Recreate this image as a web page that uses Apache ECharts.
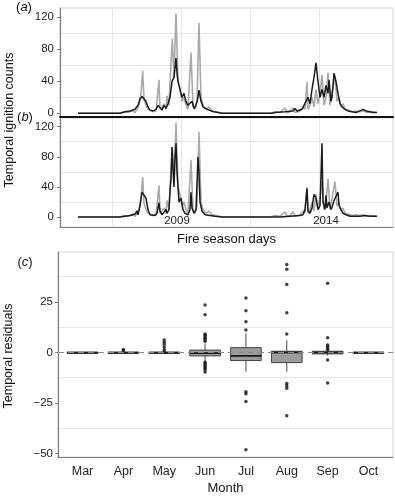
<!DOCTYPE html>
<html>
<head>
<meta charset="utf-8">
<title>Temporal ignition counts and residuals</title>
<script src="https://cdn.jsdelivr.net/npm/echarts@6/dist/echarts.min.js"></script>
<style>
  html, body { margin: 0; padding: 0; background: #fff; }
  #chart { width: 395px; height: 496px; }
</style>
</head>
<body>
<div id="chart"></div>
<script>
// observed ignition counts (grey), [season day, count]
var observed = [[0,0],[42,0],[46,2],[50,1],[54,3],[57,1],[59,5],[61,10],[63,25],[64.7,53],[66,18],[68,10],[70,5],[72,3],
  [75,2],[78,3],[81,42],[82,5],[84,8],[86,12],[88,6],[89,22],[91,10],[93,63],[94.3,93],[96,45],[98,125],[100,40],
  [102,30],[104,15],[106,20],[108,10],[110,5],[113,76],[115,10],[117,5],[119,15],[121,113],[123,20],[125,10],[128,5],
  [131,8],[134,3],[138,2],[144,0],[192,0],[197,2],[202,1],[207,7],[209,1],[212,2],[215,7],[217,1],[222,3],[225,8],
  [227,5],[229,39],[230,5],[232,10],[234,20],[236,8],[238,30],[240,12],[242,25],[244,48],[246,10],[248,20],[250,51],
  [252,10],[254,25],[257,47],[259,15],[261,20],[263,8],[265,12],[267,5],[270,4],[274,2],[278,3],[282,2],[285,3],
  [289,1],[294,2],[299,1]];

// model (a) fitted counts (black)
var fittedA = [[0,0],[42,0],[47,2],[52,3],[57,5],[60,10],[62,18],[64,21],[66,21],[68,15],[70,8],[72,4],[75,3],[78,5],
  [80,10],[82,8],[84,4],[86,10],[88,6],[90,12],[92,20],[94,40],[96,45],[98,69],[99,50],[100,40],[102,30],[104,20],
  [106,25],[108,15],[110,10],[112,12],[114,15],[116,6],[118,10],[120,20],[121,29],[123,15],[125,8],[127,10],[129,5],
  [131,6],[133,3],[136,2],[140,1],[144,0],[194,0],[197,1],[207,2],[215,3],[217,6],[219,3],[224,5],[226,10],[228,8],
  [230,20],[232,12],[234,30],[236,45],[238,63],[240,40],[242,20],[244,30],[246,20],[248,35],[250,25],[251,42],
  [253,15],[254,20],[256,50],[258,40],[260,25],[262,12],[264,8],[267,5],[270,3],[274,2],[278,1],[282,3],[285,5],
  [288,3],[292,2],[295,1],[299,1]];

// model (b) fitted counts (black)
var fittedB = [[0,0],[42,0],[44,1],[52,2],[57,4],[59,8],[60,3],[62,15],[64,33],[66,35],[68,25],[70,10],[72,3],[77,2],
  [79,5],[81,19],[82,8],[84,3],[86,6],[88,10],[89,5],[91,10],[92,35],[93,50],[94,93],[95,65],[96,40],[97,80],[98,98],
  [99,60],[100,40],[101,20],[103,25],[105,10],[107,5],[110,3],[112,10],[113,33],[114,12],[116,5],[118,10],[120,80],
  [121,60],[122,20],[124,8],[127,3],[132,2],[137,1],[144,0],[202,0],[212,1],[222,2],[225,3],[227,10],[229,38],[230,8],
  [232,5],[234,12],[236,30],[238,25],[240,10],[242,15],[244,98],[245,20],[247,10],[248,29],[249,12],[251,20],[253,10],
  [254,13],[256,22],[258,20],[260,33],[261,15],[263,10],[265,5],[268,3],[272,1],[282,1],[287,2],[292,1],[299,1]];

var yearTickDays = [99, 248];
var yearLabels = ['2009', '2014'];
var dayGridDays = [34, 103, 172, 241];
var countTicks = [0, 40, 80, 120];
var countGrid = [20, 60, 100];

// panel (c): monthly residuals, [lower whisker, Q1, median, Q3, upper whisker]
var months = ['Mar', 'Apr', 'May', 'Jun', 'Jul', 'Aug', 'Sep', 'Oct'];
var boxStats = [
  [0, 0, 0, 0, 0],
  [0, 0, 0, 0, 0],
  [0, 0, 0, 0, 0],
  [-4, -1.7, -0.3, 1.2, 4.5],
  [-9.5, -4.0, -1.7, 2.4, 9.5],
  [-9.5, -5.0, 0, 0.6, 6],
  [-1.5, -0.7, 0, 0.6, 1],
  [0, 0, 0, 0, 0]
];
var outliers = [
  [],
  [1.5, 0.8],
  [6.2, 5.0, 3.9, 2.6, 1.4, 0.4],
  [23.5, 18.7, 9.2, 8.5, 7.8, 7, 6.3, 5.5, -4.7, -5.5, -6.3, -7, -7.8, -8.5, -9.6],
  [27, 20.7, 15.2, 11.1, -19.4, -20.4, -24.2, -48.1],
  [43.5, 41.2, 33.6, 19.6, 9.2, -15.3, -16.4, -17.7, -31.3],
  [34.2, 7.3, 3.7, 2.9, 2.1, 1.2, -3.7, -15.1],
  []
];
var residualTicks = [25, 0, -25, -50];
var residualGrid = [37.5, 12.5, -12.5, -37.5];

var FONT = 'Liberation Sans, Arial, sans-serif';

var boxData = months.map(function (m, i) { return [i].concat(boxStats[i]); });
var outlierData = [];
outliers.forEach(function (vals, i) {
  vals.forEach(function (v) { outlierData.push([i, v]); });
});

function minusFmt(v) { return v < 0 ? '\u2212' + (-v) : String(v); }

function countAxis(gridIndex, min, max) {
  return {
    type: 'value', gridIndex: gridIndex, min: min, max: max,
    axisLine: { show: true, onZero: false, lineStyle: { color: '#808080', width: 1.2 } },
    axisTick: { show: true, length: 3, customValues: countTicks, lineStyle: { color: '#808080' } },
    axisLabel: { customValues: countTicks, margin: 6, fontSize: 11.5, color: '#222', fontFamily: FONT },
    splitLine: { show: false }
  };
}

// light background grid lines, drawn behind the data
function gridLines(xi, yi, xs, ys) {
  var lines = xs.map(function (v) { return { xAxis: v }; })
    .concat(ys.map(function (v) { return { yAxis: v }; }));
  return {
    type: 'line', xAxisIndex: xi, yAxisIndex: yi, data: [], silent: true, z: 0,
    markLine: { silent: true, symbol: ['none', 'none'], label: { show: false }, z: 0,
      lineStyle: { color: '#e6e6e6', type: 'solid', width: 1 }, data: lines }
  };
}

var chart = echarts.init(document.getElementById('chart'));
chart.setOption({
  animation: false,
  backgroundColor: '#fff',
  textStyle: { fontFamily: FONT },
  grid: [
    { left: 60, top: 8, width: 333, height: 109, show: true, borderColor: '#d4d4d4', borderWidth: 1 },
    { left: 60, top: 118, width: 333, height: 109, show: true, borderColor: '#d4d4d4', borderWidth: 1 },
    { left: 58, top: 252, width: 335, height: 207, show: true, borderColor: '#d4d4d4', borderWidth: 1 }
  ],
  xAxis: [
    { type: 'value', gridIndex: 0, min: -18, max: 315,
      axisLine: { show: true, onZero: false, lineStyle: { color: '#111', width: 2 } },
      axisTick: { show: false }, axisLabel: { show: false }, splitLine: { show: false } },
    { type: 'value', gridIndex: 1, min: -18, max: 315,
      axisLine: { show: true, onZero: false, lineStyle: { color: '#808080', width: 1.2 } },
      axisTick: { show: false },
      axisLabel: { customValues: yearTickDays, inside: true, margin: 0, fontSize: 11.5, color: '#222',
        fontFamily: FONT, verticalAlign: 'bottom',
        formatter: function (v) { return yearLabels[yearTickDays.indexOf(v)]; } },
      splitLine: { show: false },
      name: 'Fire season days', nameLocation: 'middle', nameGap: 6,
      nameTextStyle: { fontSize: 13, color: '#111', fontFamily: FONT, verticalAlign: 'top' } },
    { type: 'value', gridIndex: 2, min: -0.6, max: 7.6,
      axisLine: { show: true, onZero: false, lineStyle: { color: '#808080', width: 1.2 } },
      axisTick: { show: false, customValues: [0, 1, 2, 3, 4, 5, 6, 7] },
      axisLabel: { customValues: [0, 1, 2, 3, 4, 5, 6, 7], margin: 8, fontSize: 12.5, color: '#222', fontFamily: FONT,
        formatter: function (v) { return months[v]; } },
      splitLine: { show: false },
      name: 'Month', nameLocation: 'middle', nameGap: 25,
      nameTextStyle: { fontSize: 13, color: '#111', fontFamily: FONT, verticalAlign: 'top' } }
  ],
  yAxis: [
    countAxis(0, -4.6, 131.6),
    countAxis(1, -13.2, 131.5),
    { type: 'value', gridIndex: 2, min: -51.7, max: 49.7,
      axisLine: { show: true, onZero: false, lineStyle: { color: '#808080', width: 1.2 } },
      axisTick: { show: true, length: 3, customValues: residualTicks, lineStyle: { color: '#808080' } },
      axisLabel: { customValues: residualTicks, margin: 5, fontSize: 11.5, color: '#222', fontFamily: FONT,
        formatter: minusFmt },
      splitLine: { show: false } }
  ],
  graphic: [
    { type: 'text', x: 24, y: 7, style: { text: '({i|a})', fontSize: 13, fontFamily: FONT, fill: '#111',
      textAlign: 'center', textVerticalAlign: 'middle',
      rich: { i: { fontStyle: 'italic', fontSize: 13, fontFamily: FONT, fill: '#111' } } } },
    { type: 'text', x: 25, y: 117, style: { text: '({i|b})', fontSize: 13, fontFamily: FONT, fill: '#111',
      textAlign: 'center', textVerticalAlign: 'middle',
      rich: { i: { fontStyle: 'italic', fontSize: 13, fontFamily: FONT, fill: '#111' } } } },
    { type: 'text', x: 25, y: 262, style: { text: '({i|c})', fontSize: 13, fontFamily: FONT, fill: '#111',
      textAlign: 'center', textVerticalAlign: 'middle',
      rich: { i: { fontStyle: 'italic', fontSize: 13, fontFamily: FONT, fill: '#111' } } } },
    { type: 'text', x: 10, y: 120, rotation: Math.PI / 2,
      style: { text: 'Temporal ignition counts', fontSize: 12.5, fontFamily: FONT, fill: '#111',
        textAlign: 'center', textVerticalAlign: 'middle' } },
    { type: 'text', x: 9, y: 356, rotation: Math.PI / 2,
      style: { text: 'Temporal residuals', fontSize: 12.5, fontFamily: FONT, fill: '#111',
        textAlign: 'center', textVerticalAlign: 'middle' } }
  ],
  series: [
    gridLines(0, 0, dayGridDays, countGrid),
    gridLines(1, 1, dayGridDays, countGrid),
    gridLines(2, 2, [], residualGrid),
    { name: 'observed a', type: 'line', xAxisIndex: 0, yAxisIndex: 0, data: observed, symbol: 'none',
      lineStyle: { color: '#a9a9a9', width: 1.6 } },
    { name: 'model a', type: 'line', xAxisIndex: 0, yAxisIndex: 0, data: fittedA, symbol: 'none',
      lineStyle: { color: '#1c1c1c', width: 1.5 } },
    { name: 'observed b', type: 'line', xAxisIndex: 1, yAxisIndex: 1, data: observed, symbol: 'none',
      lineStyle: { color: '#a9a9a9', width: 1.6 } },
    { name: 'model b', type: 'line', xAxisIndex: 1, yAxisIndex: 1, data: fittedB, symbol: 'none',
      lineStyle: { color: '#1c1c1c', width: 1.5 } },
    { name: 'boxes', type: 'custom', xAxisIndex: 2, yAxisIndex: 2, data: boxData,
      encode: { x: 0, y: [1, 2, 3, 4, 5] },
      renderItem: function (params, api) {
        var x = api.value(0);
        var half = api.size([0.75, 0])[0] / 2;
        var lo = api.coord([x, api.value(1)]);
        var q1 = api.coord([x, api.value(2)]);
        var med = api.coord([x, api.value(3)]);
        var q3 = api.coord([x, api.value(4)]);
        var hi = api.coord([x, api.value(5)]);
        var stroke = { stroke: '#333', lineWidth: 0.9 };
        return {
          type: 'group',
          children: [
            { type: 'line', shape: { x1: hi[0], y1: hi[1], x2: q3[0], y2: q3[1] }, style: stroke },
            { type: 'line', shape: { x1: q1[0], y1: q1[1], x2: lo[0], y2: lo[1] }, style: stroke },
            { type: 'rect', shape: { x: q3[0] - half, y: q3[1], width: half * 2, height: Math.max(q1[1] - q3[1], 1) },
              style: { fill: '#9c9c9c', stroke: '#333', lineWidth: 0.9 } },
            { type: 'line', shape: { x1: med[0] - half, y1: med[1], x2: med[0] + half, y2: med[1] },
              style: { stroke: '#1a1a1a', lineWidth: 1.8 } }
          ]
        };
      } },
    { name: 'outliers', type: 'scatter', xAxisIndex: 2, yAxisIndex: 2, data: outlierData,
      symbol: 'circle', symbolSize: 3.5, itemStyle: { color: '#111' },
      markLine: { silent: true, symbol: ['none', 'none'], label: { show: false },
        lineStyle: { color: '#8a8a8a', type: [6, 4], width: 1 },
        data: [{ yAxis: 0 }] } }
  ]
});
</script>
</body>
</html>
